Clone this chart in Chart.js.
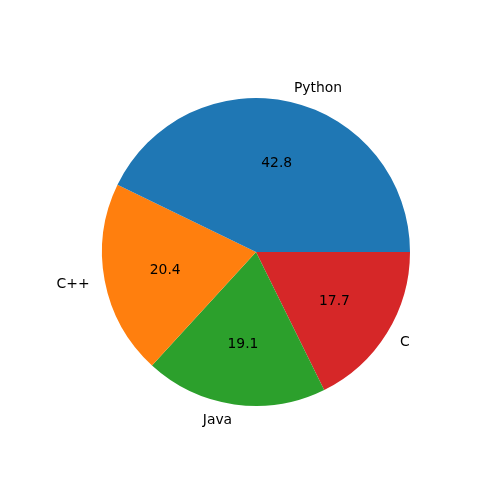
<!DOCTYPE html>
<html>
<head>
<meta charset="utf-8">
<script src="https://cdn.jsdelivr.net/npm/chart.js@4"></script>
<style>
  html, body { margin: 0; padding: 0; background: #fff; }
  #wrap { width: 500px; height: 500px; }
</style>
</head>
<body>
<div id="wrap"><canvas id="chart1"></canvas></div>
<script>
// matplotlib order (counter-clockwise from 3 o'clock)
const languages = ['Python', 'C++', 'Java', 'C'];
const shares = [42.8, 20.4, 19.1, 17.7];
const sliceColors = ['#1f77b4', '#ff7f0e', '#2ca02c', '#d62728'];

// Chart.js goes clockwise, so feed it reversed and start at 3 o'clock
const labels = languages.slice().reverse();
const values = shares.slice().reverse();
const colors = sliceColors.slice().reverse();

const pieLabels = {
    id: 'pieLabels',
    afterDatasetsDraw(chart) {
        const ctx = chart.ctx;
        const meta = chart.getDatasetMeta(0);
        ctx.save();
        ctx.fillStyle = '#000';
        ctx.font = '13.9px "DejaVu Sans"';
        ctx.textBaseline = 'middle';
        meta.data.forEach((arc, i) => {
            const mid = (arc.startAngle + arc.endAngle) / 2;
            const r = arc.outerRadius;
            // percent text at 0.6 r
            ctx.textAlign = 'center';
            ctx.fillText(values[i].toFixed(1), arc.x + 0.6 * r * Math.cos(mid), arc.y + 0.6 * r * Math.sin(mid) + 1);
            // category label at 1.1 r
            const lx = arc.x + 1.1 * r * Math.cos(mid);
            const ly = arc.y + 1.1 * r * Math.sin(mid) + 1;
            ctx.textAlign = Math.cos(mid) >= 0 ? 'left' : 'right';
            ctx.fillText(labels[i], lx, ly);
        });
        ctx.restore();
    }
};

const data = {
    labels: labels,
    datasets: [{
        data: values,
        backgroundColor: colors,
        borderWidth: 0
    }]
};

const config = {
    type: 'pie',
    data: data,
    options: {
        responsive: true,
        maintainAspectRatio: false,
        animation: false,
        rotation: 90,
        layout: {
            padding: { left: 102, right: 90, top: 98, bottom: 94 }
        },
        plugins: {
            legend: { display: false },
            tooltip: { enabled: false }
        }
    },
    plugins: [pieLabels]
};

const myChart = new Chart(document.getElementById('chart1'), config);
</script>
</body>
</html>
